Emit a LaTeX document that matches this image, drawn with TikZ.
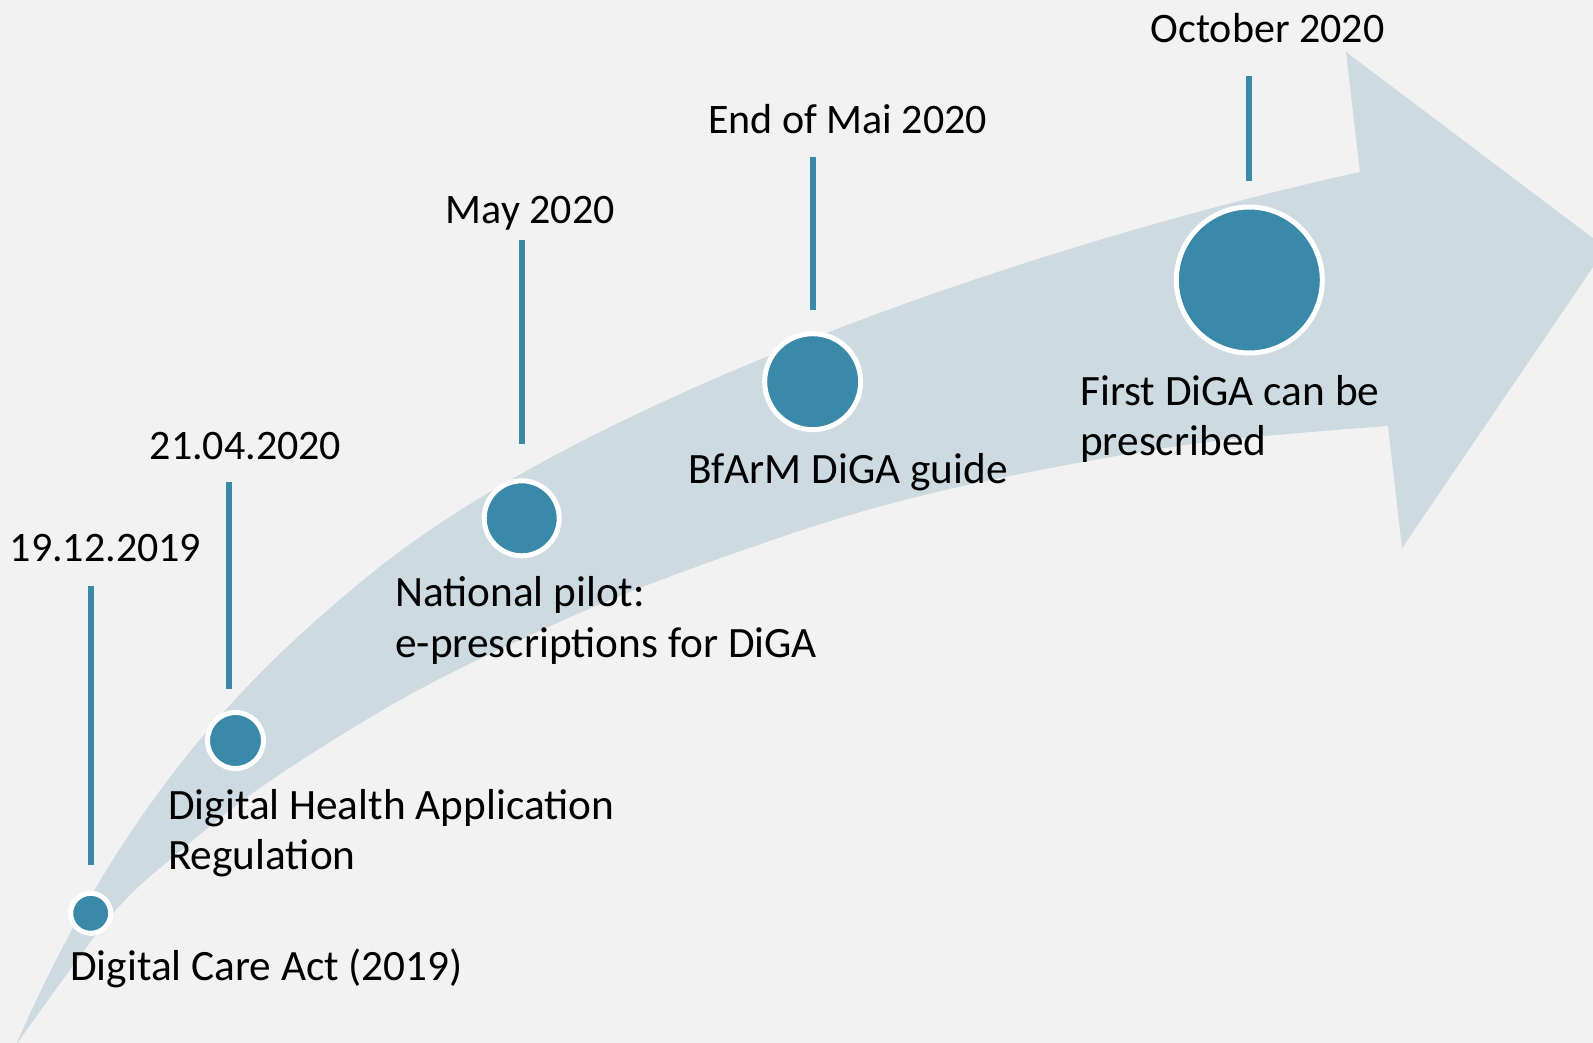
\documentclass[tikz,border=0pt]{standalone}
\usepackage{fontspec}
\setmainfont{Carlito}
\definecolor{bgc}{HTML}{F2F2F2}
\definecolor{bandc}{HTML}{CDDAE2}
\definecolor{dgteal}{HTML}{3B89A9}
\newcommand\twolines[2]{\vtop{\baselineskip=50.5pt\hbox{#1}\hbox{#2}}}
\begin{document}
\begin{tikzpicture}[x=1pt,y=-1pt,
  lbl/.style={inner sep=0pt, font=\fontsize{42pt}{50.5pt}\selectfont, text=black},
  evt/.style={inner sep=0pt, font=\fontsize{43.3pt}{50.5pt}\selectfont, text=black, anchor=base west},
  dot/.style={circle, fill=dgteal, draw=white, line width=5pt, inner sep=0pt},
  tick/.style={draw=dgteal, line width=5.8pt}]
\useasboundingbox (0,0) rectangle (1593,1043);
\clip (0,0) rectangle (1593,1043);
\fill[bgc] (0,0) rectangle (1593,1043);
% curved arrow
\fill[bandc] (16,1045) .. controls (126,792) and (257,667) .. (367,577)
  .. controls (582,400) and (1029,245) .. (1360,172)
  -- (1346,52) -- (1606,248) -- (1402,548) -- (1388,426)
  -- plot[smooth, tension=0.55] coordinates {(1388,426) (1200,443) (1000,478) (840,518) (650,584) (520,640) (400,700) (267,783) (173,857) (110,917) (16,1045)}
  -- cycle;
% ticks
\coordinate (t1a) at (90.7,586);   \coordinate (t1b) at (90.7,865);
\coordinate (t2a) at (228.7,482);  \coordinate (t2b) at (228.7,689);
\coordinate (t3a) at (522,240);    \coordinate (t3b) at (522,444);
\coordinate (t4a) at (812.7,156.7);\coordinate (t4b) at (812.7,310);
\coordinate (t5a) at (1249.3,75.7);\coordinate (t5b) at (1249.3,181);
\draw[tick] (t1a) -- (t1b);
\draw[tick] (t2a) -- (t2b);
\draw[tick] (t3a) -- (t3b);
\draw[tick] (t4a) -- (t4b);
\draw[tick] (t5a) -- (t5b);
% dots
\node[dot, minimum size=40pt] (c1) at (90.7,913.3) {};
\node[dot, minimum size=56pt] (c2) at (235.5,740.5) {};
\node[dot, minimum size=75pt] (c3) at (521.7,518.3) {};
\node[dot, minimum size=96pt] (c4) at (812.7,381.7) {};
\node[dot, minimum size=146pt] (c5) at (1249.3,280) {};
% dates
\node[lbl, anchor=base] (d1) at (105.5,561.7) {19.12.2019};
\node[lbl, anchor=base] (d2) at (245.5,459.3) {21.04.2020};
\node[lbl, anchor=base] (d3) at (530.3,223.3) {May 2020};
\node[lbl, anchor=base] (d4) at (847.5,133.3) {End of Mai 2020};
\node[lbl, anchor=base] (d5) at (1267.5,43) {October 2020};
% events
\node[evt] (e1) at (70,980) {Digital Care Act (2019)};
\node[evt] (e2) at (168,819.3) {\twolines{Digital Health Application}{Regulation}};
\node[evt] (e3) at (395,606.7) {\twolines{National pilot:}{e-prescriptions for DiGA}};
\node[evt] (e4) at (688,483) {BfArM DiGA guide};
\node[evt] (e5) at (1080,405) {\twolines{First DiGA can be}{prescribed}};
\end{tikzpicture}
\end{document}
